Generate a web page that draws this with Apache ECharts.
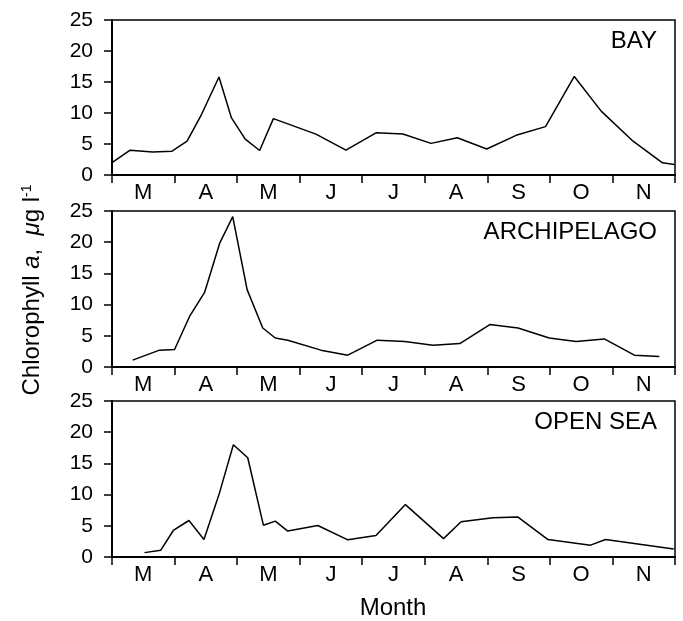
<!DOCTYPE html>
<html>
<head>
<meta charset="utf-8">
<script src="https://cdn.jsdelivr.net/npm/echarts@6/dist/echarts.min.js"></script>
<style>
  html, body { margin: 0; padding: 0; background: #fff; }
  #chart { width: 683px; height: 621px; }
</style>
</head>
<body>
<div id="chart"></div>
<script>
// months shown on the x axis (Mar .. Nov); x values are months since 1 March
var monthLabels = ['M', 'A', 'M', 'J', 'J', 'A', 'S', 'O', 'N'];

var bayMonth = [0.0, 0.29, 0.65, 0.96, 1.20, 1.43, 1.71, 1.91, 2.13, 2.36, 2.58, 3.26, 3.74, 4.22, 4.65, 5.10, 5.52, 5.99, 6.46, 6.93, 7.39, 7.82, 8.33, 8.80, 8.99];
var bayChl   = [2.0, 4.0, 3.7, 3.85, 5.45, 9.75, 15.8, 9.2, 5.8, 3.95, 9.1, 6.6, 4.0, 6.8, 6.6, 5.1, 6.0, 4.2, 6.4, 7.8, 15.9, 10.3, 5.45, 1.97, 1.7];

var archMonth = [0.33, 0.76, 1.00, 1.24, 1.48, 1.72, 1.93, 2.16, 2.41, 2.61, 2.81, 3.34, 3.77, 4.24, 4.68, 5.13, 5.56, 6.04, 6.49, 6.99, 7.42, 7.87, 8.35, 8.75];
var archChl   = [1.1, 2.7, 2.8, 8.1, 11.95, 19.8, 24.1, 12.4, 6.25, 4.65, 4.3, 2.7, 1.9, 4.3, 4.1, 3.5, 3.75, 6.8, 6.25, 4.65, 4.1, 4.5, 1.9, 1.7];

var seaMonth = [0.52, 0.78, 0.98, 1.23, 1.47, 1.71, 1.94, 2.17, 2.42, 2.61, 2.81, 3.29, 3.77, 4.22, 4.69, 5.30, 5.58, 6.09, 6.49, 6.97, 7.65, 7.89, 8.98];
var seaChl   = [0.7, 1.1, 4.25, 5.85, 2.8, 10.0, 18.0, 15.9, 5.1, 5.75, 4.15, 5.05, 2.75, 3.45, 8.4, 2.95, 5.65, 6.3, 6.4, 2.8, 1.9, 2.8, 1.3];

var panelNames = ['BAY', 'ARCHIPELAGO', 'OPEN SEA'];
var panelMonths = [bayMonth, archMonth, seaMonth];
var panelValues = [bayChl, archChl, seaChl];

var FONT = '"Liberation Sans", Arial, sans-serif';
var grids = [
  { left: 112, width: 563, top: 20, height: 155 },
  { left: 112, width: 563, top: 211, height: 156 },
  { left: 112, width: 563, top: 401, height: 156 }
];

var option = {
  animation: false,
  grid: [],
  xAxis: [],
  yAxis: [],
  series: [],
  graphic: []
};

grids.forEach(function (g, i) {
  option.grid.push({
    left: g.left, width: g.width, top: g.top, height: g.height,
    show: true, borderColor: '#000', borderWidth: 1.5
  });
  // month axis: ticks on month boundaries, letters centred in each month
  option.xAxis.push({
    type: 'category',
    gridIndex: i,
    data: monthLabels,
    boundaryGap: true,
    axisLine: { lineStyle: { color: '#000', width: 2 } },
    axisTick: { show: true, length: 8, inside: false, lineStyle: { color: '#000', width: 1.5 } },
    axisLabel: { color: '#000', fontSize: 22, fontFamily: FONT, margin: 7, interval: 0 },
    splitLine: { show: false }
  });
  // hidden value axis the data is drawn on
  option.xAxis.push({
    type: 'value',
    gridIndex: i,
    min: 0,
    max: 9,
    show: false
  });
  option.yAxis.push({
    type: 'value',
    gridIndex: i,
    min: 0,
    max: 25,
    interval: 5,
    axisLine: { show: true, lineStyle: { color: '#000', width: 2 } },
    axisTick: { show: true, length: 8, lineStyle: { color: '#000', width: 1.5 } },
    axisLabel: { color: '#000', fontSize: 21, fontFamily: FONT, margin: 19 },
    splitLine: { show: false }
  });
  var pts = panelMonths[i].map(function (m, k) { return [m, panelValues[i][k]]; });
  option.series.push({
    type: 'line',
    xAxisIndex: i * 2 + 1,
    yAxisIndex: i,
    data: pts,
    showSymbol: false,
    symbol: 'none',
    lineStyle: { color: '#000', width: 1.5 }
  });
  option.graphic.push({
    type: 'text',
    x: 657,
    y: g.top + 21,
    style: {
      text: panelNames[i],
      font: '24px ' + FONT,
      fill: '#000',
      textAlign: 'right',
      textVerticalAlign: 'middle'
    }
  });
});

option.graphic.push({
  type: 'text',
  x: 393,
  y: 608,
  style: {
    text: 'Month',
    font: '24px ' + FONT,
    fill: '#000',
    textAlign: 'center',
    textVerticalAlign: 'middle'
  }
});

option.graphic.push({
  type: 'text',
  x: 32,
  y: 290,
  rotation: Math.PI / 2,
  style: {
    text: 'Chlorophyll {i|a},  {i|\u03BC}g l{sup|-1}',
    font: '24px ' + FONT,
    fill: '#000',
    textAlign: 'center',
    textVerticalAlign: 'middle',
    rich: {
      i: { fontStyle: 'italic', fontSize: 24, fontFamily: FONT },
      sup: { fontSize: 14, fontFamily: FONT, verticalAlign: 'top', padding: [0, 0, 10, 0] }
    }
  }
});

var chart = echarts.init(document.getElementById('chart'), null, { renderer: 'canvas' });
chart.setOption(option);
window.addEventListener('resize', function () { chart.resize(); });
</script>
</body>
</html>
